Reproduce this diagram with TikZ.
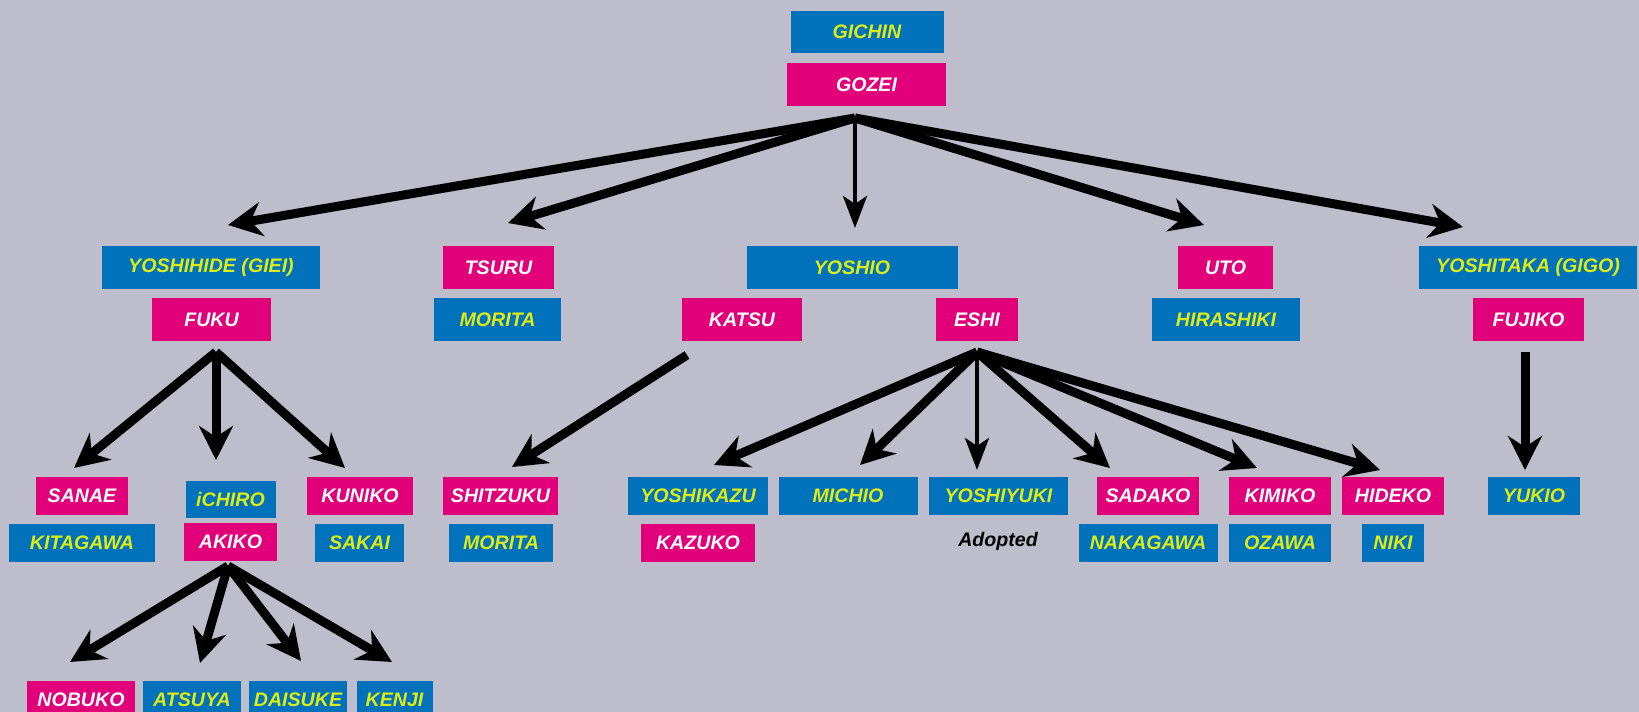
\documentclass[tikz,border=0pt]{standalone}
\usepackage{fontspec}
\setmainfont{Liberation Sans}
\usepackage{tikz}
\usetikzlibrary{arrows.meta}

\definecolor{famblue}{RGB}{0,114,188}
\definecolor{fampink}{RGB}{226,0,122}
\definecolor{famyellow}{RGB}{222,236,20}
\definecolor{familybg}{RGB}{189,189,203}

\begin{document}
\begin{tikzpicture}[x=1pt, y=-1pt,
        every node/.style={inner sep=0pt, font=\fontsize{19.6}{22}\selectfont\bfseries\itshape},
        male/.style={fill=famblue, text=famyellow, minimum height=43pt},
        female/.style={fill=fampink, text=white, minimum height=43pt},
        low/.style={minimum height=38pt},
        descent/.style={draw, line width=9pt, -{Stealth[length=34pt, width=34pt, inset=11pt]}},
        thindescent/.style={draw, line width=4.5pt, -{Stealth[length=32pt, width=24pt, inset=8pt]}}
        ]

        \fill[familybg] (0,0) rectangle (1639,712);
        \useasboundingbox (0,0) rectangle (1639,712);
        \clip (0,0) rectangle (1639,712);

        % first generation
        \node[male, minimum width=153pt, minimum height=42pt] (gichin) at (867,32) {GICHIN};
        \node[female, minimum width=159pt] (gozei) at (866.5,84.5) {GOZEI};

        % second generation
        \node[male, minimum width=218pt] (yoshihide) at (211,267.5) {YOSHIHIDE (GIEI)};
        \node[female, minimum width=119pt] (fuku) at (211.5,319.5) {FUKU};
        \node[female, minimum width=111pt] (tsuru) at (498.5,267.5) {TSURU};
        \node[male, minimum width=127pt] (morita) at (497.5,319.5) {MORITA};
        \node[male, minimum width=211pt] (yoshio) at (852,267.5) {YOSHIO};
        \node[female, minimum width=120pt] (katsu) at (742,319.5) {KATSU};
        \node[female, minimum width=82pt] (eshi) at (977,319.5) {ESHI};
        \node[female, minimum width=95pt] (uto) at (1225.5,267.5) {UTO};
        \node[male, minimum width=148pt] (hirashiki) at (1226,319.5) {HIRASHIKI};
        \node[male, minimum width=218pt] (yoshitaka) at (1528,267.5) {YOSHITAKA (GIGO)};
        \node[female, minimum width=111pt] (fujiko) at (1528.5,319.5) {FUJIKO};

        % third generation
        \node[female, low, minimum width=92pt] (sanae) at (82,496) {SANAE};
        \node[male, low, minimum width=146pt] (kitagawa) at (82,542.5) {KITAGAWA};
        \node[male, low, minimum width=90pt, minimum height=37pt] (ichiro) at (230.5,499.5) {iCHIRO};
        \node[female, low, minimum width=93pt] (akiko) at (230.5,541.5) {AKIKO};
        \node[female, low, minimum width=106pt] (kuniko) at (360,496) {KUNIKO};
        \node[male, low, minimum width=89pt] (sakai) at (359.5,542.5) {SAKAI};
        \node[female, low, minimum width=115pt] (shitzuku) at (500.5,496) {SHITZUKU};
        \node[male, low, minimum width=104pt] (morita2) at (501,542.5) {MORITA};
        \node[male, low, minimum width=140pt] (yoshikazu) at (698,496) {YOSHIKAZU};
        \node[female, low, minimum width=114pt] (kazuko) at (698,542.5) {KAZUKO};
        \node[male, low, minimum width=139pt] (michio) at (848,496) {MICHIO};
        \node[male, low, minimum width=139pt] (yoshiyuki) at (998.5,496) {YOSHIYUKI};
        \node[text=black] (adopted) at (998,541) {Adopted};
        \node[female, low, minimum width=102pt] (sadako) at (1148,496) {SADAKO};
        \node[male, low, minimum width=139pt] (nakagawa) at (1148,542.5) {NAKAGAWA};
        \node[female, low, minimum width=102pt] (kimiko) at (1280,496) {KIMIKO};
        \node[male, low, minimum width=102pt] (ozawa) at (1280,542.5) {OZAWA};
        \node[female, low, minimum width=102pt] (hideko) at (1393,496) {HIDEKO};
        \node[male, low, minimum width=62pt] (niki) at (1393,542.5) {NIKI};
        \node[male, low, minimum width=92pt] (yukio) at (1534,496) {YUKIO};

        % fourth generation
        \node[female, low, minimum width=108pt] (nobuko) at (81,700) {NOBUKO};
        \node[male, low, minimum width=98pt] (atsuya) at (192,700) {ATSUYA};
        \node[male, low, minimum width=98pt] (daisuke) at (298,700) {DAISUKE};
        \node[male, low, minimum width=76pt] (kenji) at (394.5,700) {KENJI};

        % where the arrows start and end
        \coordinate (gozeiout) at (855,118);
        \coordinate (fukuout) at (216,352);
        \coordinate (akikoout) at (228,566);
        \coordinate (katsuout) at (687,355);
        \coordinate (eshiout) at (977,352);
        \coordinate (fujikoout) at (1525,352);

        \coordinate (toyoshihide) at (228,225);
        \coordinate (totsuru) at (508,223);
        \coordinate (toyoshio) at (855,228);
        \coordinate (touto) at (1204,225);
        \coordinate (toyoshitaka) at (1463,227);
        \coordinate (tosanae) at (74,468);
        \coordinate (toichiro) at (216,460);
        \coordinate (tokuniko) at (345,468);
        \coordinate (tonobuko) at (70,662);
        \coordinate (toatsuya) at (200,663);
        \coordinate (todaisuke) at (301,661);
        \coordinate (tokenji) at (392,662);
        \coordinate (toshitzuku) at (512,467);
        \coordinate (toyoshikazu) at (714,465);
        \coordinate (tomichio) at (860,465);
        \coordinate (toyoshiyuki) at (977,470);
        \coordinate (tosadako) at (1110,468);
        \coordinate (tokimiko) at (1257,468);
        \coordinate (tohideko) at (1380,470);
        \coordinate (toyukio) at (1525,470);

        \draw[descent] (gozeiout) -- (toyoshihide);
        \draw[descent] (gozeiout) -- (totsuru);
        \draw[thindescent] (gozeiout) -- (toyoshio);
        \draw[descent] (gozeiout) -- (touto);
        \draw[descent] (gozeiout) -- (toyoshitaka);

        \draw[descent] (fukuout) -- (tosanae);
        \draw[descent] (fukuout) -- (toichiro);
        \draw[descent] (fukuout) -- (tokuniko);

        \draw[descent] (akikoout) -- (tonobuko);
        \draw[descent] (akikoout) -- (toatsuya);
        \draw[descent] (akikoout) -- (todaisuke);
        \draw[descent] (akikoout) -- (tokenji);

        \draw[descent] (katsuout) -- (toshitzuku);

        \draw[descent] (eshiout) -- (toyoshikazu);
        \draw[descent] (eshiout) -- (tomichio);
        \draw[thindescent] (eshiout) -- (toyoshiyuki);
        \draw[descent] (eshiout) -- (tosadako);
        \draw[descent] (eshiout) -- (tokimiko);
        \draw[descent] (eshiout) -- (tohideko);

        \draw[descent] (fujikoout) -- (toyukio);
    \end{tikzpicture}
\end{document}
